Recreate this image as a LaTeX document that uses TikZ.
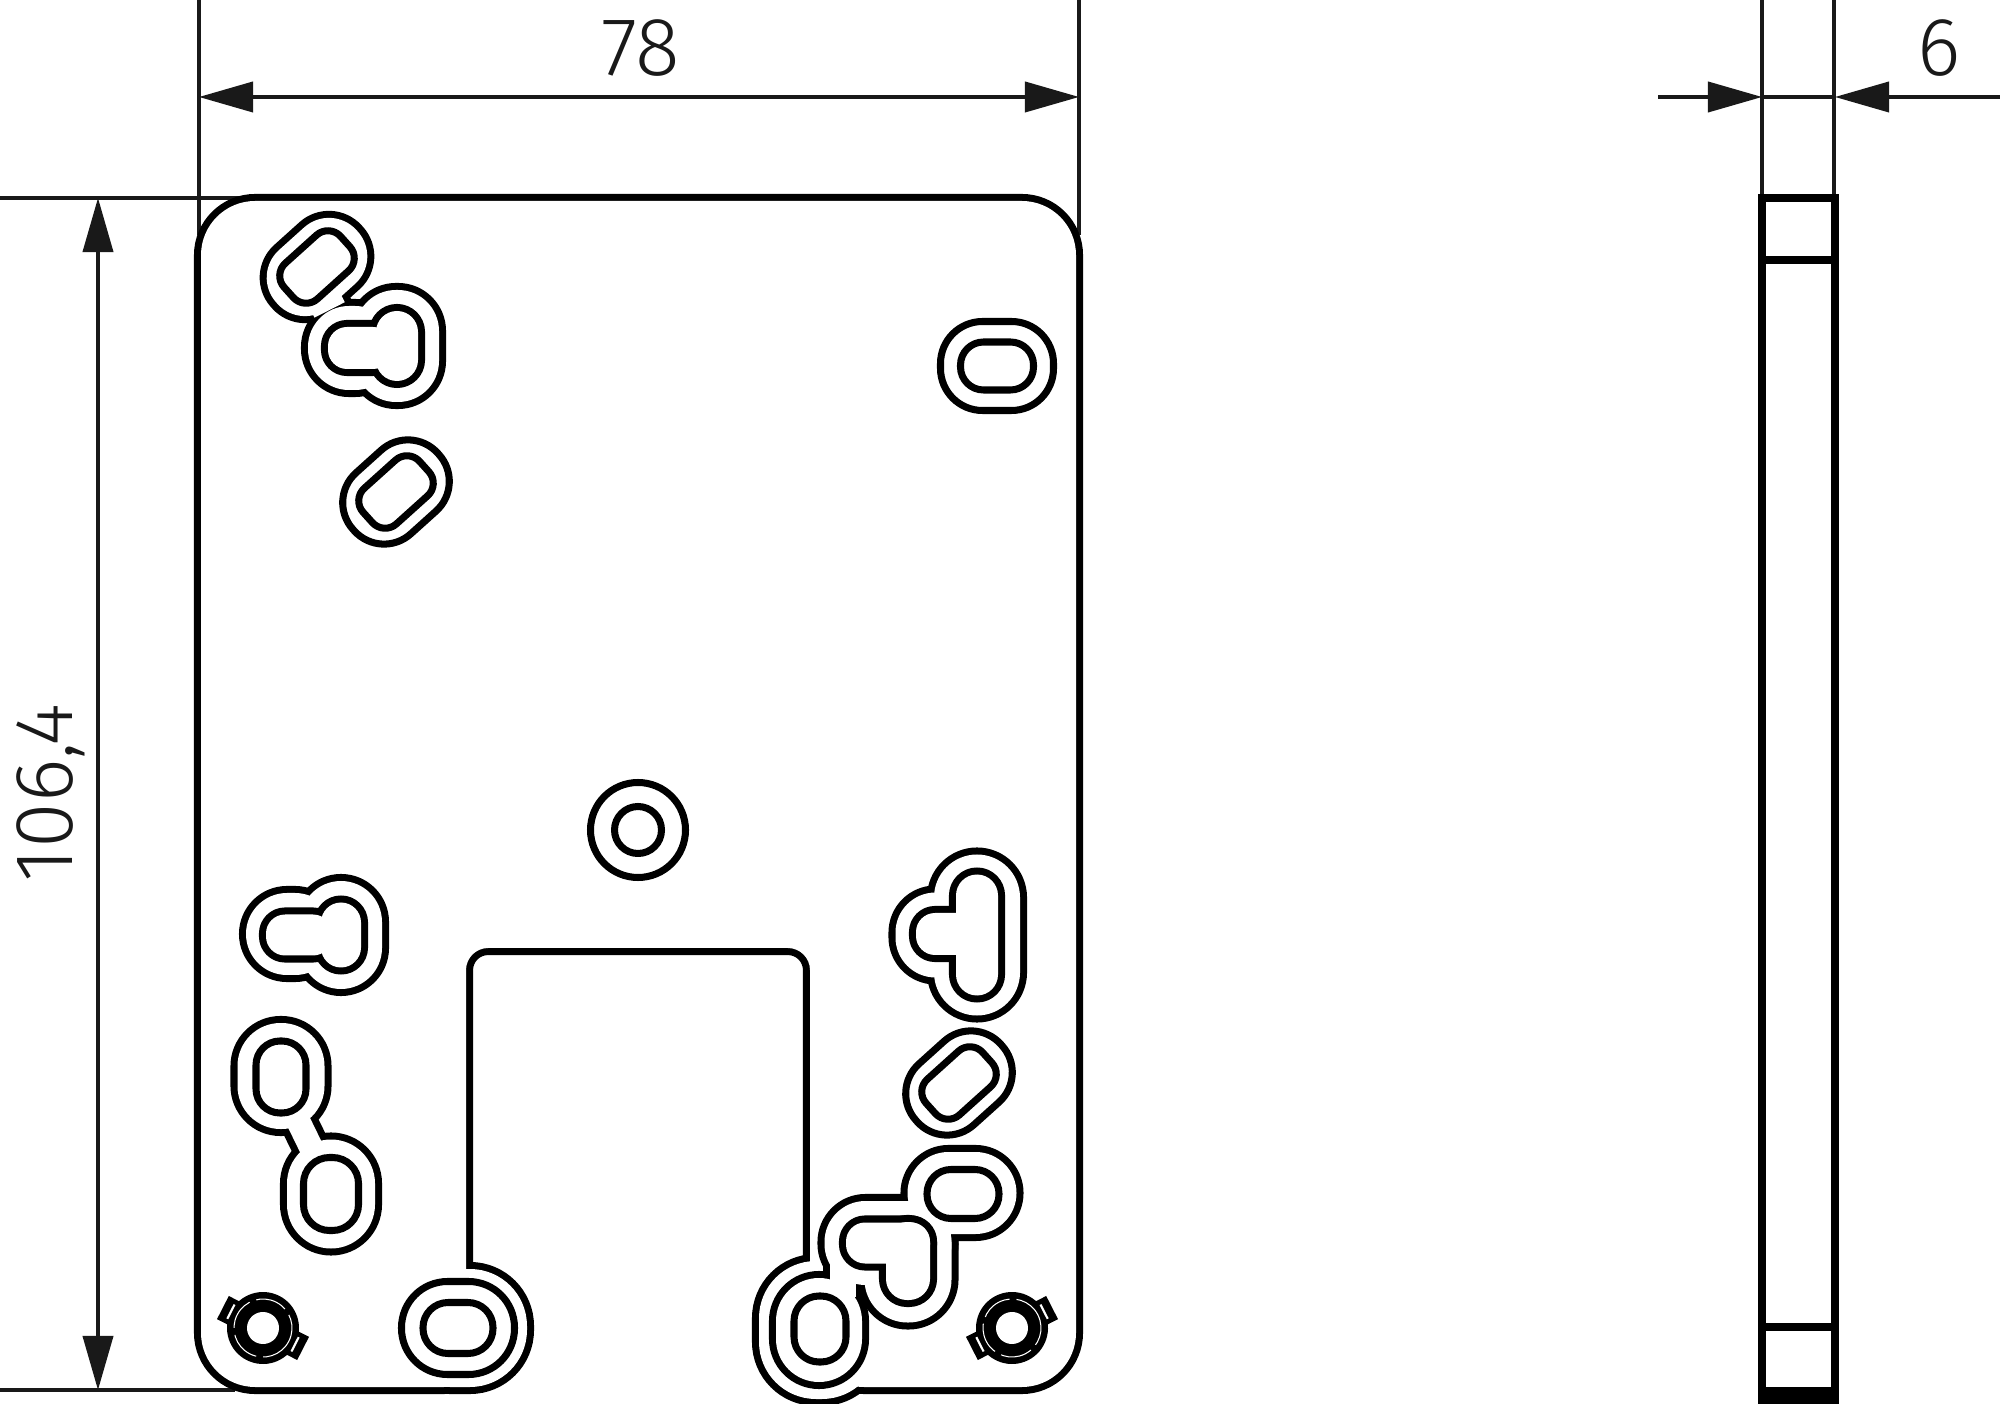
\documentclass[tikz,border=0pt]{standalone}
\usepackage{fontspec}
\usetikzlibrary{arrows.meta}
\newfontfamily\dimfont{Fira Sans Light}

\newcommand{\roundbox}[6]{{[shift={(#1,#2)}, rotate=#5, rounded corners={(#6-3)*0.2845pt}] (-#3/2+3,-#4/2+3) rectangle (#3/2-3,#4/2-3)}}
\newcommand{\holeoutline}[1]{
    \foreach \holepart in {#1} {\draw[hole_back] \holepart;}
    \foreach \holepart in {#1} {\fill[white] \holepart;}
}
\newcommand{\holeslot}[6]{\draw[hole_line, shift={(#1,#2)}, rotate=#5, rounded corners=#6*0.2845pt] (-#3/2,-#4/2) rectangle (#3/2,#4/2);}
\newcommand{\ringslot}[2]{\holeslot{#1}{#2}{114}{82}{42}{40}\holeslot{#1}{#2}{76}{48}{42}{17}}
\newcommand{\platescrew}[3]{
    \begin{scope}[shift={(#1,#2)}, rotate=#3]
        \fill (25,-13) rectangle (45,13);
        \fill (-25,-13) rectangle (-45,13);
        \fill (0,0) circle[radius=36];
        \fill[white] (0,0) circle[radius=16];
        \draw[white, line width=0.3pt, dash pattern=on 9pt off 2pt] (0,0) circle[radius=29];
        \draw[white, line width=0.6pt] (36,-8) -- (36,8);
        \draw[white, line width=0.6pt] (-36,-8) -- (-36,8);
    \end{scope}
}

\begin{document}
\begin{tikzpicture}[
                    x=0.01cm, y=-0.01cm,
                    hole_back/.style={draw=black, line width=4pt, line join=round},
                    hole_line/.style={draw=black, line width=2pt, line join=round},
                    side_line/.style={draw=black, line width=2.4pt},
                    dim_line/.style={draw=black!90, line width=0.95pt},
                    dim_arrow/.style={draw=black!90, line width=0.95pt, -{Triangle[length=15.4pt, width=8.6pt]}},
                    dim_text/.style={font=\dimfont\fontsize{23.5}{26}\selectfont, text=black!90, inner sep=0pt}
                ]
                    \useasboundingbox (0,0) rectangle (2000,1404);

                    \coordinate (width_top_l) at (199,0);
                    \coordinate (width_low_l) at (199,235);
                    \coordinate (width_top_r) at (1079,0);
                    \coordinate (width_low_r) at (1079,235);
                    \coordinate (height_top_o) at (0,198);
                    \coordinate (height_top_i) at (240,198);
                    \coordinate (height_low_o) at (0,1390);
                    \coordinate (height_low_i) at (235,1390);
                    \coordinate (width_l) at (199,97);
                    \coordinate (width_r) at (1079,97);
                    \coordinate (width_m) at (640,97);
                    \coordinate (height_t) at (98,198);
                    \coordinate (height_b) at (98,1390);
                    \coordinate (height_m) at (98,800);
                    \coordinate (thick_top_l) at (1762,0);
                    \coordinate (thick_low_l) at (1762,198);
                    \coordinate (thick_top_r) at (1834,0);
                    \coordinate (thick_low_r) at (1834,198);
                    \coordinate (thick_l) at (1762,97);
                    \coordinate (thick_r) at (1835,97);
                    \coordinate (thick_from_l) at (1658,97);
                    \coordinate (thick_from_r) at (2000,97);

                    \draw[dim_line] (width_top_l) -- (width_low_l);
                    \draw[dim_line] (width_top_r) -- (width_low_r);
                    \draw[dim_line] (height_top_o) -- (height_top_i);
                    \draw[dim_line] (height_low_o) -- (height_low_i);
                    \draw[dim_line] (thick_top_l) -- (thick_low_l);
                    \draw[dim_line] (thick_top_r) -- (thick_low_r);
                    \draw[dim_line] (thick_l) -- (thick_r);
                    \draw[dim_arrow] (width_m) -- (width_l);
                    \draw[dim_arrow] (width_m) -- (width_r);
                    \draw[dim_arrow] (height_m) -- (height_t);
                    \draw[dim_arrow] (height_m) -- (height_b);
                    \draw[dim_arrow] (thick_from_l) -- (thick_l);
                    \draw[dim_arrow] (thick_from_r) -- (thick_r);

                    \node[dim_text] (width_label) at (641,48) {78};
                    \node[dim_text, rotate=90] (height_label) at (51,793) {106,4};
                    \node[dim_text] (thick_label) at (1939,48) {6};

                    \holeoutline{
                        {[rounded corners=15.4pt] (201,1387) -- (201,201) -- (1076,201) -- (1076,1387) -- (810,1387) [rounded corners=6.3pt] -- (810,948) -- (466,948) -- (466,1387) [rounded corners=15.4pt] -- cycle},
                        {\roundbox{460}{1328}{140}{124}{0}{60}},
                        {\roundbox{819}{1330}{126}{144}{0}{60}}
                    }

                    \holeoutline{
                        {\roundbox{962}{1193}{115}{88}{0}{44}},
                        {\roundbox{888}{1243}{133}{90}{0}{44}},
                        {\roundbox{908}{1262}{93}{127}{0}{46}},
                        {\roundbox{819}{1330}{92}{110}{0}{46}},
                        {\roundbox{843}{1275}{32}{50}{0}{3}}
                    }
                    \holeoutline{
                        {\roundbox{888}{1243}{90}{47}{0}{22}},
                        {\roundbox{908}{1261}{50}{84}{0}{24}}
                    }
                    \holeslot{963}{1194}{72}{49}{0}{24}
                    \holeslot{820}{1329}{52}{66}{0}{25}

                    \holeoutline{
                        {\roundbox{317}{267}{114}{82}{42}{40}},
                        {\roundbox{321}{293}{44}{40}{-63}{3}},
                        {\roundbox{397}{346}{90}{118}{0}{44}},
                        {\roundbox{352}{348}{94}{90}{0}{44}}
                    }
                    \holeoutline{
                        {\roundbox{397}{346}{48}{76}{0}{24}},
                        {\roundbox{360}{348}{70}{48}{0}{22}}
                    }
                    \holeslot{317}{267}{76}{48}{42}{17}
                    \ringslot{396}{492}
                    \ringslot{959}{1083}

                    \holeslot{997}{366}{113}{89}{0}{42}
                    \holeslot{997}{366}{73}{48}{0}{23}
                    \holeslot{458}{1328}{113}{93}{0}{46}
                    \holeslot{458}{1328}{70}{51}{0}{25}

                    \draw[hole_line] (638,830) circle[radius=47.5];
                    \draw[hole_line] (638,830) circle[radius=23.5];

                    \holeoutline{
                        {\roundbox{341}{935}{88}{114}{0}{44}},
                        {\roundbox{291}{934}{96}{88}{0}{44}}
                    }
                    \holeoutline{
                        {\roundbox{341}{935}{46}{71}{0}{23}},
                        {\roundbox{299}{935}{72}{47}{0}{22}}
                    }

                    \holeoutline{
                        {\roundbox{281}{1076}{93}{112}{0}{46}},
                        {\roundbox{331}{1194}{94}{115}{0}{47}},
                        {\roundbox{305}{1135}{90}{30}{-64}{3}}
                    }
                    \holeslot{281}{1077}{50}{72}{0}{24}
                    \holeslot{331}{1194}{55}{73}{0}{26}

                    \holeoutline{
                        {\roundbox{977}{935}{92}{167}{0}{46}},
                        {\roundbox{936}{935}{87}{91}{0}{43}}
                    }
                    \holeoutline{
                        {\roundbox{977}{935}{48}{127}{0}{24}},
                        {\roundbox{949}{934}{72}{48}{0}{22}}
                    }

                    \platescrew{263}{1328}{-27}
                    \platescrew{1012}{1328}{27}

                    \draw[side_line] (1762,1404) -- (1762,198) -- (1835,198) -- (1835,1404);
                    \draw[side_line] (1762,260) -- (1835,260);
                    \draw[side_line] (1762,1327) -- (1835,1327);
                    \fill (1760,1387) rectangle (1837,1404);
                \end{tikzpicture}
\end{document}
